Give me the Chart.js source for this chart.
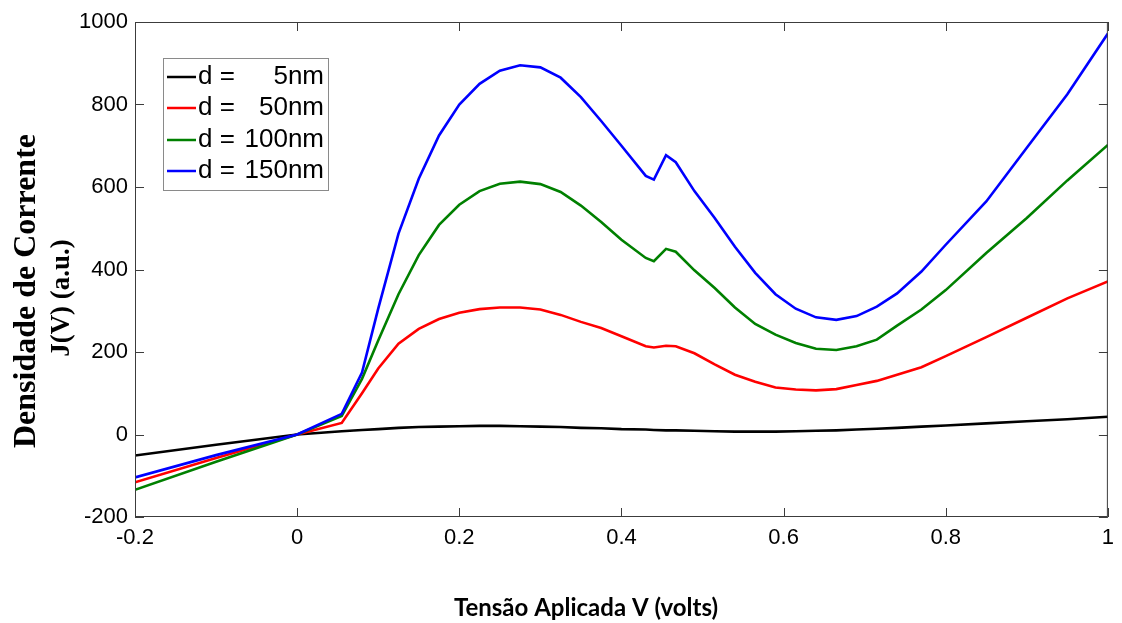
<!DOCTYPE html>
<html>
<head>
<meta charset="utf-8">
<script src="https://cdn.jsdelivr.net/npm/chart.js@4.4.1/dist/chart.umd.min.js"></script>
<style>
  html, body { margin: 0; padding: 0; background: #fff; }
  #wrap { width: 1122px; height: 623px; }
</style>
</head>
<body>
<div id="wrap"><canvas id="chart" width="1122" height="623"></canvas></div>
<script>
// applied voltage (x)
const volts = [-0.2, -0.1, 0, 0.055, 0.08, 0.1, 0.125, 0.15, 0.175, 0.2, 0.225, 0.25, 0.275, 0.3, 0.325, 0.35, 0.375, 0.4,
  0.43, 0.44, 0.455, 0.467, 0.49, 0.515, 0.54, 0.565, 0.59, 0.615, 0.64, 0.665, 0.69, 0.715, 0.74, 0.77, 0.8, 0.85, 0.9, 0.95, 1.0];

// current density J(V) per thickness
const d5 = [-51, -25, 0, 8, 11, 13, 16, 18, 19, 20, 21, 21, 20, 19, 18, 16, 15, 13,
  12, 11, 10, 10, 9, 8, 7, 7, 7, 8, 9, 10, 12, 14, 16, 19, 22, 27, 32, 37, 43];
const d50 = [-116, -57, 0, 28, 100, 160, 220, 256, 280, 295, 304, 308, 308, 303, 290, 273, 258, 238,
  214, 211, 215, 214, 197, 170, 145, 128, 114, 109, 107, 110, 120, 130, 145, 163, 190, 236, 283, 330, 371];
const d100 = [-134, -66, 0, 45, 135, 228, 340, 435, 508, 557, 590, 608, 613, 607, 588, 555, 515, 472,
  428, 420, 450, 443, 398, 355, 308, 268, 242, 222, 208, 205, 214, 230, 264, 303, 350, 440, 525, 616, 702];
const d150 = [-104, -50, 0, 50, 150, 305, 487, 620, 725, 800, 850, 882, 895, 890, 865, 818, 760, 700,
  627, 618, 677, 660, 590, 525, 455, 392, 340, 305, 284, 278, 287, 310, 342, 395, 460, 565, 695, 825, 972];

const legendNames = ['d =', 'd =', 'd =', 'd ='];
const legendSizes = ['5nm', '50nm', '100nm', '150nm'];
const colors = ['#000000', '#ff0000', '#008000', '#0000ff'];
const xTicks = [-0.2, 0, 0.2, 0.4, 0.6, 0.8, 1];
const yTicks = [-200, 0, 200, 400, 600, 800, 1000];

const series = [d5, d50, d100, d150];

// box around the plot + inward ticks (matlab style)
const framePlugin = {
  id: 'frame',
  afterDatasetsDraw(chart){
    const {ctx, chartArea: a, scales:{x, y}} = chart;
    ctx.save();
    ctx.strokeStyle = '#3c3c3c';
    ctx.lineWidth = 1;
    ctx.strokeRect(a.left + 0.5, a.top + 0.5, a.right - a.left - 1, a.bottom - a.top - 1);
    ctx.beginPath();
    xTicks.forEach(v=>{
      const px = Math.round(x.getPixelForValue(v)) + 0.5;
      ctx.moveTo(px, a.bottom); ctx.lineTo(px, a.bottom - 9);
      ctx.moveTo(px, a.top); ctx.lineTo(px, a.top + 9);
    });
    yTicks.forEach(v=>{
      const py = Math.round(y.getPixelForValue(v)) + 0.5;
      ctx.moveTo(a.left, py); ctx.lineTo(a.left + 9, py);
      ctx.moveTo(a.right, py); ctx.lineTo(a.right - 9, py);
    });
    ctx.stroke();
    ctx.restore();
  },
  afterDraw(chart){
    const ctx = chart.ctx;
    ctx.save();
    // legend
    ctx.fillStyle = '#fff';
    ctx.fillRect(163.5, 58.5, 165, 132);
    ctx.strokeStyle = '#8a8a8a';
    ctx.lineWidth = 1;
    ctx.strokeRect(163.5, 58.5, 165, 132);
    ctx.font = '26px "Liberation Sans", Arial, sans-serif';
    ctx.textBaseline = 'middle';
    const rows = [77, 108, 140, 171];
    rows.forEach((ry, i)=>{
      ctx.strokeStyle = colors[i];
      ctx.lineWidth = 2.5;
      ctx.beginPath(); ctx.moveTo(167, ry); ctx.lineTo(196, ry); ctx.stroke();
      ctx.fillStyle = '#000';
      ctx.textAlign = 'left';
      ctx.fillText(legendNames[i], 198, ry);
      ctx.textAlign = 'right';
      ctx.fillText(legendSizes[i], 324, ry);
    });

    // axis titles
    ctx.fillStyle = '#000';
    ctx.textAlign = 'center';
    ctx.font = 'bold 24px Lato, "Open Sans", sans-serif';
    ctx.fillText('Tensão Aplicada V (volts)', 586, 608);

    ctx.translate(27, 291);
    ctx.rotate(-Math.PI/2);
    ctx.font = 'bold 32px "Liberation Serif", "Times New Roman", serif';
    ctx.fillText('Densidade de Corrente', 0, 0);
    ctx.restore();
    ctx.save();
    ctx.translate(62, 298);
    ctx.rotate(-Math.PI/2);
    ctx.textAlign = 'center';
    ctx.textBaseline = 'middle';
    ctx.font = 'bold 27px "Liberation Serif", "Times New Roman", serif';
    ctx.fillText('J(V) (a.u.)', 0, 0);
    ctx.restore();
  }
};

new Chart(document.getElementById('chart'), {
  type: 'line',
  data: {
    datasets: series.map((s, i)=>({
      label: legendNames[i] + ' ' + legendSizes[i],
      data: volts.map((v, k)=>({x: v, y: s[k]})),
      borderColor: colors[i],
      borderWidth: 2.6,
      pointRadius: 0,
      tension: 0,
      fill: false,
      order: 3 - i
    }))
  },
  options: {
    responsive: false,
    animation: false,
    devicePixelRatio: 1,
    layout: { padding: { top: 22, right: 5, left: 0, bottom: 0 } },
    plugins: { legend: { display: false }, tooltip: { enabled: false } },
    scales: {
      x: {
        type: 'linear', min: -0.2, max: 1,
        afterBuildTicks: s=>{ s.ticks = xTicks.map(v=>({value: v})); },
        afterFit: s=>{ s.height = 106; },
        grid: { display: false, drawTicks: false },
        border: { display: false },
        ticks: {
          padding: 8, color: '#000', maxRotation: 0, autoSkip: false,
          font: { family: '"Liberation Sans", Arial, sans-serif', size: 22 },
          callback: v=>String(+Number(v).toFixed(1))
        }
      },
      y: {
        type: 'linear', min: -200, max: 1000,
        afterBuildTicks: s=>{ s.ticks = yTicks.map(v=>({value: v})); },
        afterFit: s=>{ s.width = 135; },
        grid: { display: false, drawTicks: false },
        border: { display: false },
        ticks: {
          padding: 7, color: '#000', autoSkip: false,
          font: { family: '"Liberation Sans", Arial, sans-serif', size: 22 },
          callback: v=>String(v)
        }
      }
    }
  },
  plugins: [framePlugin]
});
</script>
</body>
</html>
